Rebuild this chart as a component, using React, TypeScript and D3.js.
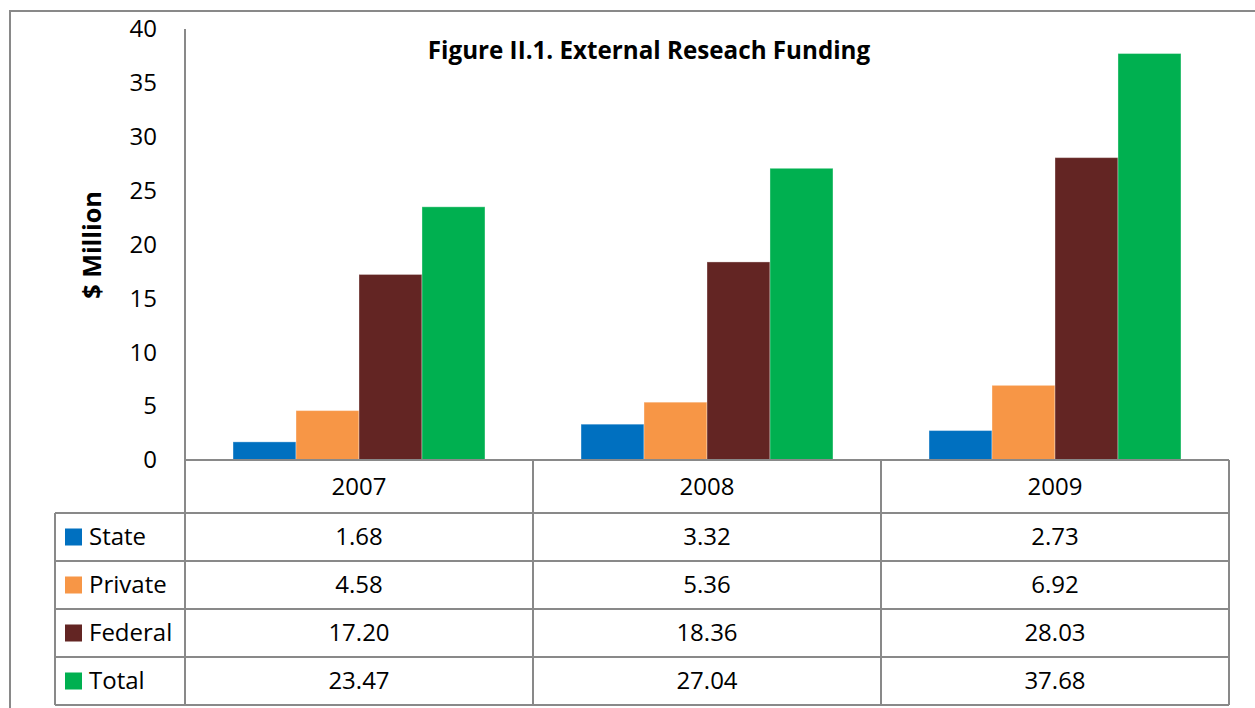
import React from "react";
import * as d3 from "d3";

const years = ["2007", "2008", "2009"];
const seriesNames = ["State", "Private", "Federal", "Total"];
const stateVals = [1.68, 3.32, 2.73];
const privateVals = [4.58, 5.36, 6.92];
const federalVals = [17.2, 18.36, 28.03];
const totalVals = [23.47, 27.04, 37.68];
const yTicks = [0, 5, 10, 15, 20, 25, 30, 35, 40];
const colors = ["#0070C0", "#F79646", "#632523", "#00B050"];

const seriesVals = [stateVals, privateVals, federalVals, totalVals];

export default function App() {
  const W = 1255, H = 708;
  const plotLeft = 185, plotRight = 1229;
  const y0 = 460, yTop = 28.5;
  const tableLeft = 55;
  const rowEdges = [460, 513, 561, 609, 657, 705];
  const font = "'Open Sans', sans-serif";
  const gray = "#898989";

  const x0 = d3.scaleBand<string>().domain(years).range([plotLeft, plotRight]).padding(0);
  const bw = x0.bandwidth();
  const gap = bw * 0.138;
  const x1 = d3.scaleBand<string>().domain(seriesNames).range([gap, bw - gap]).padding(0);
  const y = d3.scaleLinear().domain([0, 40]).range([y0, yTop]);

  return (
    <svg width={W} height={H} style={{ position: "absolute", left: 0, top: 0 }} fontFamily={font}>
      <rect x={0} y={0} width={W} height={H} fill="#fff" />
      <rect x={10} y={11} width={1270} height={720} fill="none" stroke={gray} strokeWidth={2} />
      <text x={649} y={59} textAnchor="middle" fontWeight="bold" fontSize={24.2} fill="#000">
        Figure II.1. External Reseach Funding
      </text>
      <text
        transform={`translate(101,245) rotate(-90)`}
        textAnchor="middle"
        fontWeight="bold"
        fontSize={25.2}
        fill="#000"
      >
        $ Million
      </text>
      {yTicks.map((t) => (
        <text key={t} x={157} y={y(t)} dy="0.35em" textAnchor="end" fontSize={24} fill="#000">
          {t}
        </text>
      ))}
      {years.map((yr, i) => (
        <g key={yr} transform={`translate(${x0(yr)},0)`}>
          {seriesNames.map((s, j) => (
            <rect
              key={s}
              x={x1(s)}
              y={y(seriesVals[j][i])}
              width={x1.bandwidth()}
              height={y0 - y(seriesVals[j][i])}
              fill={colors[j]}
              stroke="rgba(255,255,255,0.35)"
              strokeWidth={1}
            />
          ))}
        </g>
      ))}
      {/* table */}
      <line x1={plotLeft} x2={plotRight} y1={y0} y2={y0} stroke={gray} strokeWidth={2} />
      {rowEdges.slice(1).map((r) => (
        <line key={r} x1={tableLeft} x2={plotRight} y1={r} y2={r} stroke={gray} strokeWidth={2} />
      ))}
      <line x1={tableLeft} x2={tableLeft} y1={rowEdges[1]} y2={rowEdges[5]} stroke={gray} strokeWidth={2} />
      <line x1={plotLeft} x2={plotLeft} y1={29} y2={rowEdges[5]} stroke={gray} strokeWidth={2} />
      {years.map((yr) => (
        <line
          key={yr}
          x1={(x0(yr) as number) + bw}
          x2={(x0(yr) as number) + bw}
          y1={y0}
          y2={rowEdges[5]}
          stroke={gray}
          strokeWidth={2}
        />
      ))}
      {years.map((yr) => (
        <text
          key={yr}
          x={(x0(yr) as number) + bw / 2}
          y={(rowEdges[0] + rowEdges[1]) / 2}
          dy="0.35em"
          textAnchor="middle"
          fontSize={24}
          fill="#000"
        >
          {yr}
        </text>
      ))}
      {seriesNames.map((s, j) => {
        const cy = (rowEdges[j + 1] + rowEdges[j + 2]) / 2;
        return (
          <g key={s}>
            <rect x={65} y={cy - 8.5} width={17} height={17} fill={colors[j]} />
            <text x={89} y={cy} dy="0.35em" fontSize={24} fill="#000">
              {s}
            </text>
            {years.map((yr, i) => (
              <text
                key={yr}
                x={(x0(yr) as number) + bw / 2}
                y={cy}
                dy="0.35em"
                textAnchor="middle"
                fontSize={24}
                fill="#000"
              >
                {seriesVals[j][i].toFixed(2)}
              </text>
            ))}
          </g>
        );
      })}
    </svg>
  );
}
